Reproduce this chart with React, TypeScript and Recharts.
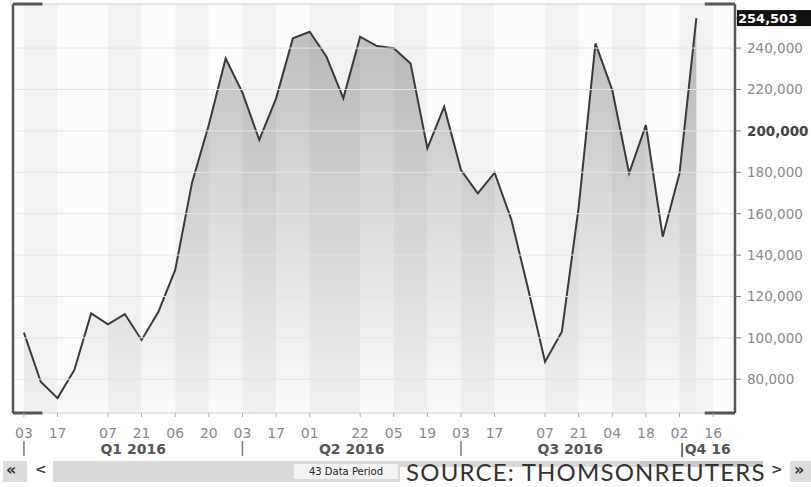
import React from 'react';
import {
  ComposedChart, Area, XAxis, YAxis, ReferenceArea, ReferenceLine
} from 'recharts';

// weekly values, 03 Jan 2016 .. 09 Oct 2016
const weeklyValues = [
  102500, 78800, 70900, 84500, 111800, 106500, 111500, 99000, 112600, 132800,
  175000, 203000, 235000, 218500, 195600, 215700, 244700, 247900, 235800, 215700,
  245500, 241000, 239900, 232600, 191600, 211700, 181100, 169800, 179800, 157000,
  123500, 88500, 103000, 163000, 242300, 219700, 179500, 202800, 148900, 179500,
  254503,
];

// date ticks: week index -> day label
const dateTickWeeks = [0, 2, 5, 7, 9, 11, 13, 15, 17, 20, 22, 24, 26, 28, 31, 33, 35, 37, 39, 41];
const dateTickLabels = ['03', '17', '07', '21', '06', '20', '03', '17', '01', '22', '05', '19', '03', '17', '07', '21', '04', '18', '02', '16'];

const quarterStarts = [0, 13, 26];
const quarterMids = [6.5, 19.5, 32.5];
const quarterLabels = ['Q1 2016', 'Q2 2016', 'Q3 2016'];
const q4Start = 39;
const q4Label = '|Q4 16';

const valueTicks = [80000, 100000, 120000, 140000, 160000, 180000, 200000, 220000, 240000];
const lastValue = weeklyValues[weeklyValues.length - 1];

const X_MIN = -0.65;
const X_MAX = 42.3;
const Y_MIN = 63700;
const Y_MAX = 261300;

const FONT = '"DejaVu Sans", sans-serif';

const data = weeklyValues.map((v, i) => ({ i, v }));
const fmt = (v: number) => v.toLocaleString('en-US');

const ValueTick = (props: any) => {
  const { x, y, payload } = props;
  const v = payload.value;
  if (v === lastValue) {
    return (
      <g>
        <rect x={x - 10} y={y - 8} width={80} height={16} fill="#111" />
        <text x={x - 9} y={y} dy={5} fill="#fff" fontSize={13} fontWeight="bold" fontFamily={FONT}>
          {fmt(v)}
        </text>
      </g>
    );
  }
  const bold = v === 200000;
  return (
    <text x={x} y={y} dy={5} fill={bold ? '#444' : '#8a8a8a'} fontSize={13.5}
      fontWeight={bold ? 'bold' : 'normal'} fontFamily={FONT}>
      {fmt(v)}
    </text>
  );
};

const DateTick = (props: any) => {
  const { x, y, payload } = props;
  const k = dateTickWeeks.indexOf(payload.value);
  return (
    <text x={x} y={y} dy={11} textAnchor="middle" fill="#8a8a8a" fontSize={14} fontFamily={FONT}>
      {dateTickLabels[k]}
    </text>
  );
};

const QuarterTick = (props: any) => {
  const { x, y, payload } = props;
  const v = payload.value;
  const m = quarterMids.indexOf(v);
  if (m >= 0) {
    return (
      <text x={x} y={y} dy={13} textAnchor="middle" fill="#555" fontSize={14} fontWeight="bold" fontFamily={FONT}>
        {quarterLabels[m]}
      </text>
    );
  }
  if (v === q4Start) {
    return (
      <text x={x} y={y} dy={13} fill="#555" fontSize={14} fontWeight="bold" fontFamily={FONT}>
        {q4Label}
      </text>
    );
  }
  return <line x1={x} x2={x} y1={y} y2={y + 15} stroke="#777" strokeWidth={1.5} />;
};

export default function App() {
  const bands = dateTickWeeks.slice(0, -1).map((w, k) => ({ x1: w, x2: dateTickWeeks[k + 1], gray: k % 2 === 0 }));
  const quarterTicks = [...quarterStarts, ...quarterMids, q4Start];

  return (
    <div style={{ position: 'absolute', left: 0, top: 0, width: 811, height: 487, background: '#fff', overflow: 'hidden' }}>
      <ComposedChart width={811} height={487} data={data} margin={{ top: 4, right: 0, left: 13, bottom: 26 }}>
        <defs>
          <linearGradient id="areaFill" x1="0" y1="0" x2="0" y2="1">
            <stop offset="0%" stopColor="#000" stopOpacity={0.42} />
            <stop offset="100%" stopColor="#000" stopOpacity={0.01} />
          </linearGradient>
        </defs>
        <XAxis
          dataKey="i" type="number" domain={[X_MIN, X_MAX]} allowDataOverflow
          ticks={dateTickWeeks} interval={0} height={28}
          axisLine={false} tickSize={4} tickMargin={10}
          tickLine={{ stroke: '#aaa' }} tick={<DateTick />}
        />
        <XAxis
          xAxisId="q" dataKey="i" type="number" domain={[X_MIN, X_MAX]} allowDataOverflow
          ticks={quarterTicks} interval={0} height={20}
          axisLine={false} tickLine={false} tickSize={0} tickMargin={0}
          tick={<QuarterTick />}
        />
        <YAxis
          orientation="right" type="number" domain={[Y_MIN, Y_MAX]} allowDataOverflow
          ticks={[...valueTicks, lastValue]} interval={0} width={76}
          axisLine={false} tickLine={{ stroke: '#777' }}
          tickSize={6} tickMargin={6} tick={<ValueTick />}
        />
        <ReferenceArea x1={X_MIN} x2={X_MAX} y1={Y_MIN} y2={Y_MAX} fill="#fcfcfc" fillOpacity={1} stroke="none" />
        {bands.map((b) => (
          <ReferenceArea key={b.x1} x1={b.x1} x2={b.x2} y1={Y_MIN} y2={Y_MAX}
            fill={b.gray ? '#f2f2f2' : '#fcfcfc'} fillOpacity={1} stroke="none" />
        ))}
        {valueTicks.map((t) => (
          <ReferenceLine key={t} y={t} stroke="#e4e4e4" strokeWidth={1} />
        ))}
        <ReferenceLine y={Y_MAX} stroke="#d0d0d0" />
        <ReferenceLine y={Y_MIN} stroke="#d0d0d0" />
        <Area
          type="linear" dataKey="v" stroke="#3a3a3a" strokeWidth={2}
          fill="url(#areaFill)" dot={false} activeDot={false} isAnimationActive={false}
        />
        <ReferenceLine segment={[{ x: X_MIN, y: Y_MIN }, { x: X_MIN, y: Y_MAX }]} stroke="#555" strokeWidth={2.5} ifOverflow="visible" />
        <ReferenceLine segment={[{ x: X_MAX, y: Y_MIN }, { x: X_MAX, y: Y_MAX }]} stroke="#555" strokeWidth={2.5} ifOverflow="visible" />
        <ReferenceLine segment={[{ x: X_MIN, y: Y_MAX }, { x: 1.1, y: Y_MAX }]} stroke="#555" strokeWidth={3} ifOverflow="visible" />
        <ReferenceLine segment={[{ x: X_MIN, y: Y_MIN }, { x: 1.1, y: Y_MIN }]} stroke="#555" strokeWidth={3} ifOverflow="visible" />
        <ReferenceLine segment={[{ x: 40.5, y: Y_MAX }, { x: X_MAX, y: Y_MAX }]} stroke="#555" strokeWidth={3} ifOverflow="visible" />
        <ReferenceLine segment={[{ x: 40.5, y: Y_MIN }, { x: X_MAX, y: Y_MIN }]} stroke="#555" strokeWidth={3} ifOverflow="visible" />
      </ComposedChart>

      {/* scroll bar strip */}
      <div style={{ position: 'absolute', left: 3, top: 461, width: 24, height: 21, background: '#dcdcdc' }} />
      <div style={{ position: 'absolute', left: 6, top: 460, fontFamily: FONT, fontSize: 16, fontWeight: 'bold', color: '#333' }}>«</div>
      <div style={{ position: 'absolute', left: 35, top: 461, fontFamily: FONT, fontSize: 14, fontWeight: 'bold', color: '#444' }}>&lt;</div>
      <div style={{ position: 'absolute', left: 53, top: 461, width: 587, height: 21, background: '#d9d9d9' }} />
      <div style={{ position: 'absolute', left: 640, top: 461, width: 123, height: 21, background: '#c9c9c9' }} />
      <div style={{
        position: 'absolute', left: 294, top: 464, width: 104, height: 15, background: '#f3f3f3',
        fontFamily: FONT, fontSize: 10, lineHeight: '15px', textAlign: 'center', color: '#222'
      }}>43 Data Period</div>
      <div style={{ position: 'absolute', left: 400, top: 467, width: 374, height: 20, background: '#fff' }} />
      <div style={{
        position: 'absolute', left: 406, top: 457, fontFamily: 'Lato, sans-serif', fontSize: 24,
        lineHeight: '29px', letterSpacing: 1.2, color: '#333', whiteSpace: 'nowrap'
      }}>
        SOURCE: THOMSONREUTERS
      </div>
      <div style={{ position: 'absolute', left: 771, top: 461, fontFamily: FONT, fontSize: 14, fontWeight: 'bold', color: '#444' }}>&gt;</div>
      <div style={{ position: 'absolute', left: 790, top: 461, width: 21, height: 21, background: '#dcdcdc' }} />
      <div style={{ position: 'absolute', left: 794, top: 460, fontFamily: FONT, fontSize: 16, fontWeight: 'bold', color: '#333' }}>»</div>
    </div>
  );
}
